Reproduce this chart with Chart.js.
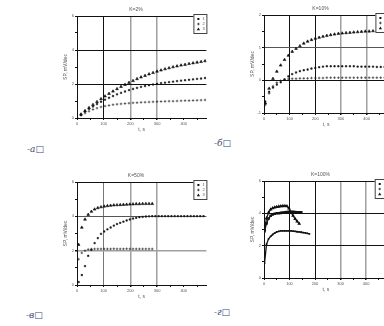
<!DOCTYPE html>
<html>
<head>
<meta charset="utf-8">
<script src="https://cdn.jsdelivr.net/npm/chart.js@4.4.1/dist/chart.umd.min.js"></script>
<style>
  html, body { margin: 0; padding: 0; background: #fff; }
  body { position: relative; width: 384px; height: 326px; overflow: hidden; }
  canvas { position: absolute; }
  .cap { position: absolute; font: italic 9px "DejaVu Serif", serif; color: #3b4a78; white-space: nowrap; line-height: 10px; }
</style>
</head>
<body>
<canvas id="p1" width="148" height="131" style="left:63px;top:2px"></canvas>
<canvas id="p2" width="143" height="127" style="left:250px;top:1px"></canvas>
<canvas id="p3" width="148" height="132" style="left:63px;top:168px"></canvas>
<canvas id="p4" width="143" height="126" style="left:250px;top:167px"></canvas>
<div class="cap" style="left:27px;top:144px">-а□</div>
<div class="cap" style="left:214px;top:138px">-б□</div>
<div class="cap" style="left:26px;top:310px">-в□</div>
<div class="cap" style="left:214px;top:307px">-г□</div>
<script>
// four panels of SP vs time at different K

const seriesNames = ['1', '2', '3'];
const xTickValues = [0, 50, 100, 150, 200, 250, 300, 350, 400, 450];

// K=2%
const t2 = [0, 15, 30, 45, 60, 75, 90, 105, 120, 135, 150, 165, 180, 195, 210, 225, 240, 255, 270, 285, 300, 315, 330, 345, 360, 375, 390, 405, 420, 435, 450, 465, 480];
const k2s1 = [0, 0.2, 0.38, 0.54, 0.68, 0.82, 0.96, 1.08, 1.19, 1.29, 1.39, 1.48, 1.56, 1.64, 1.71, 1.77, 1.83, 1.88, 1.93, 1.97, 2.01, 2.05, 2.08, 2.11, 2.14, 2.17, 2.2, 2.22, 2.25, 2.27, 2.3, 2.32, 2.35];
const k2s2 = [0, 0.15, 0.29, 0.4, 0.5, 0.58, 0.65, 0.7, 0.74, 0.78, 0.81, 0.83, 0.85, 0.87, 0.89, 0.9, 0.92, 0.93, 0.94, 0.95, 0.96, 0.97, 0.98, 0.99, 0.99, 1.0, 1.01, 1.02, 1.02, 1.03, 1.04, 1.05, 1.06];
const k2s3 = [0, 0.22, 0.42, 0.6, 0.78, 0.95, 1.12, 1.28, 1.43, 1.57, 1.71, 1.84, 1.96, 2.08, 2.19, 2.3, 2.4, 2.49, 2.58, 2.66, 2.74, 2.81, 2.88, 2.94, 3.0, 3.05, 3.1, 3.14, 3.19, 3.23, 3.27, 3.31, 3.35];

// K=10%
const t10 = [5, 20, 35, 50, 65, 80, 95, 110, 125, 140, 155, 170, 185, 200, 215, 230, 245, 260, 275, 290, 305, 320, 335, 350, 365, 380, 395, 410, 425, 440, 455, 470, 485];
const k10s1 = [-0.65, -0.35, -0.22, -0.13, -0.06, 0.03, 0.12, 0.19, 0.24, 0.28, 0.31, 0.33, 0.36, 0.38, 0.4, 0.42, 0.43, 0.43, 0.43, 0.43, 0.43, 0.43, 0.43, 0.43, 0.42, 0.42, 0.42, 0.42, 0.42, 0.41, 0.41, 0.41, 0.41];
const k10s2 = [-0.75, -0.4, -0.18, -0.07, -0.01, 0.02, 0.04, 0.05, 0.05, 0.06, 0.06, 0.06, 0.07, 0.07, 0.07, 0.07, 0.08, 0.08, 0.08, 0.08, 0.08, 0.08, 0.08, 0.08, 0.08, 0.08, 0.08, 0.08, 0.08, 0.08, 0.08, 0.08, 0.08];
const k10s3 = [-0.7, -0.25, 0.05, 0.27, 0.46, 0.63, 0.76, 0.88, 0.97, 1.05, 1.13, 1.19, 1.24, 1.28, 1.31, 1.34, 1.37, 1.39, 1.41, 1.43, 1.44, 1.45, 1.46, 1.47, 1.48, 1.49, 1.5, 1.5, 1.51, 1.52, 1.52, 1.53, 1.53];

// K=50%
const t50 = [6, 18, 30, 42, 54, 66, 78, 90, 102, 114, 126, 138, 150, 162, 174, 186, 198, 210, 222, 234, 246, 258, 270, 282, 294, 306, 318, 330, 342, 354, 366, 378, 390, 402, 414, 426, 438, 450, 462, 474];
const k50s1 = [0.17, 0.58, 1.1, 1.7, 2.05, 2.44, 2.73, 2.98, 3.12, 3.24, 3.35, 3.46, 3.55, 3.62, 3.69, 3.76, 3.82, 3.87, 3.91, 3.95, 3.97, 3.99, 4.0, 4.01, 4.01, 4.01, 4.01, 4.01, 4.01, 4.01, 4.01, 4.01, 4.01, 4.01, 4.01, 4.01, 4.01, 4.01, 4.01, 4.01];
const k50s2 = [1.5, 1.87, 2.0, 2.07, 2.09, 2.1, 2.1, 2.1, 2.1, 2.1, 2.1, 2.11, 2.1, 2.1, 2.1, 2.11, 2.1, 2.1, 2.1, 2.1, 2.1, 2.1, 2.1, 2.1];
const k50s3 = [2.35, 3.35, 3.82, 4.1, 4.28, 4.41, 4.49, 4.54, 4.58, 4.61, 4.63, 4.65, 4.66, 4.67, 4.68, 4.69, 4.7, 4.71, 4.72, 4.72, 4.73, 4.73, 4.73, 4.73];

// K=100%
const t100 = [2, 10, 18, 26, 34, 42, 50, 58, 66, 74, 82, 90, 98, 106, 114, 122, 130, 138, 146, 154, 162, 170, 178];
const k100s1 = [2.9, 3.38, 3.68, 3.85, 3.93, 3.97, 4.0, 4.01, 4.03, 4.05, 4.06, 4.08, 4.09, 4.09, 4.09, 4.08, 4.07, 4.07, 4.06];
const k100s2 = [0.9, 2.1, 2.42, 2.57, 2.69, 2.78, 2.85, 2.89, 2.91, 2.92, 2.92, 2.92, 2.92, 2.91, 2.9, 2.88, 2.86, 2.85, 2.83, 2.81, 2.79, 2.76, 2.73];
const k100s3 = [3.0, 3.7, 4.05, 4.24, 4.32, 4.37, 4.4, 4.42, 4.44, 4.45, 4.46, 4.44, 4.3, 4.06, 3.85, 3.66, 3.5, 3.36];

const FONT = 'Liberation Sans';
const INK = '#111';
const GRAY = '#a0a0a0';
const DARK = '#555';
const CLEAR = 'rgba(0,0,0,0)';

const markerStyles = ['rect', 'cross', 'triangle'];
const markerSizes = [1, 1.3, 1.6];

function drawMarker(ctx, style, x, y) {
    ctx.beginPath();
    if (style === 'rect') {
        ctx.fillRect(x - 1, y - 1, 2, 2);
    } else if (style === 'cross') {
        ctx.moveTo(x - 1.3, y); ctx.lineTo(x + 1.3, y);
        ctx.moveTo(x, y - 1.3); ctx.lineTo(x, y + 1.3);
        ctx.stroke();
    } else {
        ctx.moveTo(x, y - 1.6); ctx.lineTo(x + 1.6, y + 1.2); ctx.lineTo(x - 1.6, y + 1.2);
        ctx.closePath(); ctx.fill();
    }
}

const legendBox = {
    id: 'legendBox',
    afterDraw(chart) {
        const { ctx, chartArea } = chart;
        const x = chartArea.right - 13, y = chartArea.top - 2;
        ctx.save();
        ctx.fillStyle = '#fff';
        ctx.fillRect(x, y, 13, 19);
        ctx.strokeStyle = '#444';
        ctx.lineWidth = 1;
        ctx.strokeRect(x + 0.5, y + 0.5, 13, 19);
        ctx.font = '4px ' + FONT;
        ctx.textBaseline = 'middle';
        seriesNames.forEach((name, i) => {
            const cy = y + 5 + i * 5;
            ctx.fillStyle = INK; ctx.strokeStyle = INK; ctx.lineWidth = 0.7;
            drawMarker(ctx, markerStyles[i], x + 5, cy);
            ctx.fillStyle = DARK;
            ctx.fillText(name, x + 9, cy);
        });
        ctx.restore();
    }
};

function pickColor(map) {
    return (c) => (c.tick && map[c.tick.value]) || CLEAR;
}

function makePanel(id, p) {
    const datasets = p.series.map((ys, i) => ({
        label: seriesNames[i],
        data: ys.map((y, j) => ({ x: p.t[j], y })),
        pointStyle: markerStyles[i],
        pointRadius: p.line ? 0.9 : markerSizes[i],
        borderWidth: p.line ? 1.3 : 0.6,
        backgroundColor: INK,
        borderColor: INK,
        showLine: !!p.line,
    }));

    new Chart(document.getElementById(id), {
        type: 'scatter',
        data: { datasets },
        options: {
            responsive: false,
            animation: false,
            events: [],
            layout: { padding: { right: 2 } },
            plugins: {
                legend: { display: false },
                tooltip: { enabled: false },
                title: { display: true, text: p.title, color: DARK, font: { family: FONT, size: 5, weight: 'normal' }, padding: { top: 5, bottom: 3 } }
            },
            scales: {
                x: {
                    type: 'linear', min: 0, max: 485,
                    afterBuildTicks: (s) => { s.ticks = xTickValues.map((v) => ({ value: v })); },
                    afterFit: (s) => { s.height = 15; },
                    border: { display: true, color: INK, width: 1 },
                    grid: { color: pickColor(p.xGrid), tickColor: INK, tickLength: 2, lineWidth: (c) => (c.tick && p.xGrid[c.tick.value] === GRAY ? 1.5 : 1) },
                    ticks: { font: { family: FONT, size: 4 }, color: DARK, padding: 1, maxRotation: 0, autoSkip: false, callback: (v) => (v % 100 === 0 ? v : '') },
                    title: { display: true, text: 't, s', color: DARK, font: { family: FONT, size: 5 }, padding: 0 }
                },
                y: {
                    min: p.yMin, max: p.yMax,
                    afterFit: (s) => { s.width = 14; },
                    border: { display: true, color: INK, width: 1 },
                    grid: { color: pickColor(p.yGrid), tickColor: INK, tickLength: 2, lineWidth: (c) => (c.tick && p.yGrid[c.tick.value] === GRAY ? 1.5 : 1) },
                    ticks: { stepSize: p.yStep, font: { family: FONT, size: 4 }, color: DARK, padding: 1, autoSkip: false, callback: (v) => (Math.abs(v % p.yLabelStep) < 1e-6 ? v : '') },
                    title: { display: true, text: 'SP, mV/dec', color: DARK, font: { family: FONT, size: 5 }, padding: 0 }
                }
            }
        },
        plugins: [legendBox]
    });
}

makePanel('p1', {
    title: 'K=2%', t: t2, series: [k2s1, k2s2, k2s3],
    yMin: 0, yMax: 6, yStep: 1, yLabelStep: 2,
    xGrid: { 100: INK, 200: GRAY, 300: GRAY },
    yGrid: { 2: INK, 4: INK, 6: INK }
});

makePanel('p2', {
    title: 'K=10%', t: t10, series: [k10s1, k10s2, k10s3],
    yMin: -1, yMax: 2, yStep: 0.5, yLabelStep: 1,
    xGrid: { 100: INK, 200: INK, 300: GRAY, 400: GRAY },
    yGrid: { 0: INK, 1: '#555', 2: INK }
});

makePanel('p3', {
    title: 'K=50%', t: t50, series: [k50s1, k50s2, k50s3],
    yMin: 0, yMax: 6, yStep: 1, yLabelStep: 2,
    xGrid: { 100: '#777', 200: GRAY, 300: GRAY },
    yGrid: { 2: GRAY, 4: '#555', 6: INK }
});

makePanel('p4', {
    title: 'K=100%', t: t100, series: [k100s1, k100s2, k100s3], line: true,
    yMin: 0, yMax: 6, yStep: 1, yLabelStep: 2,
    xGrid: { 100: INK, 200: INK, 300: GRAY, 400: GRAY },
    yGrid: { 2: INK, 4: INK, 6: INK }
});
</script>
</body>
</html>
